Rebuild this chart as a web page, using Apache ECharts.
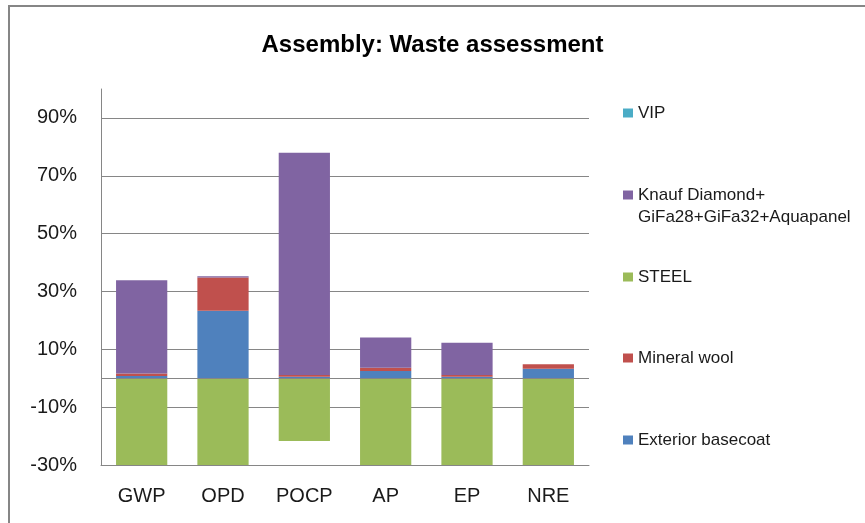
<!DOCTYPE html>
<html>
<head>
<meta charset="utf-8">
<script src="https://cdn.jsdelivr.net/npm/echarts@6/dist/echarts.min.js"></script>
<style>
html,body{margin:0;padding:0;background:#fff;}
#main{width:865px;height:523px;}
</style>
</head>
<body>
<div id="main"></div>
<script>
// categories and stacked values (percent)
var categories = ['GWP', 'OPD', 'POCP', 'AP', 'EP', 'NRE'];
var exteriorBasecoat = [0.8, 23.3, 0.5, 2.5, 0.5, 3.3];
var mineralWool = [0.8, 11.5, 0.6, 1.1, 0.6, 1.5];
var steel = [-30, -30, -21.7, -30, -30, -30];
var knauf = [32.3, 0.5, 76.9, 10.5, 11.2, 0];
var vip = [0, 0, 0, 0, 0, 0];

var FONT = 'Liberation Sans';
var myChart = echarts.init(document.getElementById('main'));

function legendAt(name, top) {
	return {
		data: [name],
		left: 623,
		top: top,
		padding: 0,
		itemWidth: 10,
		itemHeight: 9,
		itemGap: 5,
		icon: 'rect',
		selectedMode: false,
		formatter: function (n) {
			// wrapped like excel, marker sits on the first line
			if (n.indexOf('Knauf') === 0) return '\nKnauf Diamond+\nGiFa28+GiFa32+Aquapanel';
			return n;
		},
		textStyle: {fontFamily: FONT, fontSize: 17, color: '#1a1a1a', lineHeight: 22, padding: [0, 0, 0, 0]}
	};
}

function barSeries(name, data, color) {
	return {
		name: name,
		type: 'bar',
		stack: 'all',
		barWidth: '63%',
		data: data,
		itemStyle: {color: color},
		emphasis: {disabled: true}
	};
}

var series = [
	barSeries('Exterior basecoat', exteriorBasecoat, '#4F81BD'),
	barSeries('Mineral wool', mineralWool, '#C0504D'),
	barSeries('STEEL', steel, '#9BBB59'),
	barSeries('Knauf Diamond+GiFa28+GiFa32+Aquapanel', knauf, '#8064A2'),
	barSeries('VIP', vip, '#4BACC6')
];
// horizontal axis line at 0
series[2].markLine = {
	silent: true,
	symbol: 'none',
	label: {show: false},
	lineStyle: {color: '#868686', type: 'solid', width: 1},
	data: [{yAxis: 0}]
};

myChart.setOption({
	animation: false,
	backgroundColor: '#fff',
	title: {
		text: 'Assembly: Waste assessment',
		left: 'center',
		top: 33,
		padding: 0,
		textStyle: {fontFamily: FONT, fontSize: 24, fontWeight: 'bold', color: '#000'}
	},
	legend: [
		legendAt('VIP', 102),
		legendAt('Knauf Diamond+GiFa28+GiFa32+Aquapanel', 162),
		legendAt('STEEL', 266),
		legendAt('Mineral wool', 347),
		legendAt('Exterior basecoat', 429)
	],
	grid: {left: 101, right: 276, top: 89, bottom: 58, containLabel: false},
	xAxis: {
		type: 'category',
		data: categories,
		axisLine: {onZero: false, lineStyle: {color: '#868686', width: 1}},
		axisTick: {show: false},
		axisLabel: {fontFamily: FONT, fontSize: 20, color: '#1a1a1a', margin: 21}
	},
	yAxis: {
		type: 'value',
		min: -30,
		max: 100,
		interval: 20,
		axisLine: {show: true, lineStyle: {color: '#868686', width: 1}},
		axisTick: {show: false},
		axisLabel: {
			fontFamily: FONT, fontSize: 20, color: '#1a1a1a', margin: 24,
			showMaxLabel: false,
			formatter: function (v) { return v === 100 ? '' : v + '%'; }
		},
		splitLine: {show: true, showMaxLine: false, lineStyle: {color: '#868686', width: 1}}
	},
	graphic: [{
		type: 'rect',
		silent: true,
		shape: {x: 9, y: 6, width: 1000, height: 1000},
		style: {fill: 'none', stroke: '#868686', lineWidth: 2}
	}],
	series: series
});
</script>
</body>
</html>
